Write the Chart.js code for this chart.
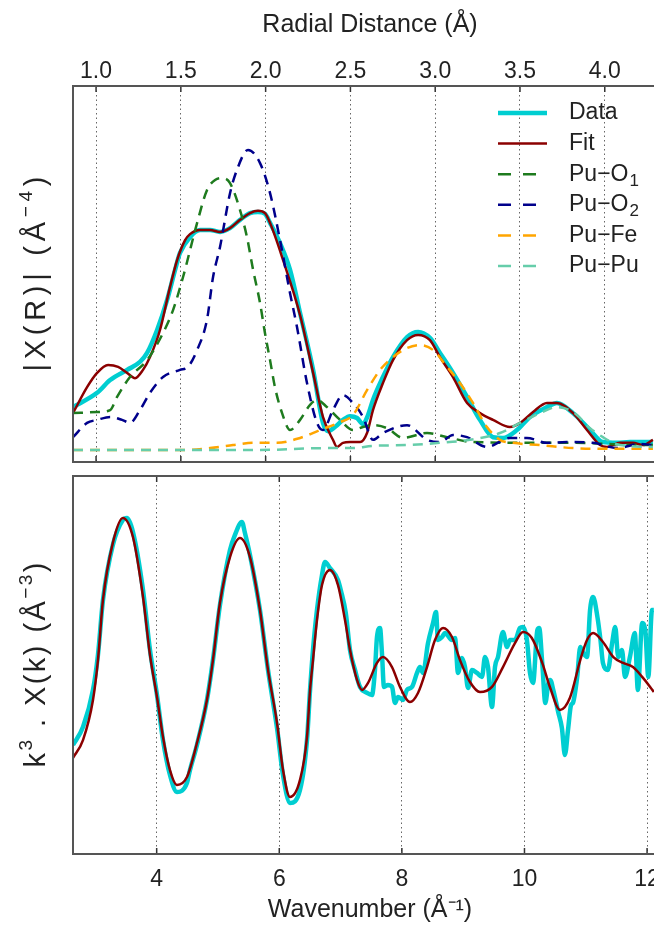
<!DOCTYPE html>
<html>
<head>
<meta charset="utf-8">
<script src="https://cdn.jsdelivr.net/npm/chart.js@4.4.1/dist/chart.umd.min.js"></script>
<style>
  html, body { margin: 0; padding: 0; background: #fff; overflow: hidden; width: 654px; height: 926px; }
  canvas { position: absolute; left: 0; }
  #topChart { top: 0; }
  #bottomChart { top: 470px; }
</style>
</head>
<body>
<canvas id="topChart" width="680" height="470"></canvas>
<canvas id="bottomChart" width="680" height="456"></canvas>
<script>
// ---------- top panel : |X(R)| vs R ----------
const rTicks = [1.0, 1.5, 2.0, 2.5, 3.0, 3.5, 4.0]

const dataR = [0.864, 1.006, 1.083, 1.183, 1.259, 1.301, 1.360, 1.419, 1.466, 1.495, 1.554, 1.613, 1.672, 1.731, 1.790, 1.849, 1.908, 1.955, 1.996, 2.026, 2.085, 2.144, 2.203, 2.280, 2.338, 2.368, 2.409, 2.456, 2.498, 2.539, 2.574, 2.604, 2.633, 2.692, 2.751, 2.834, 2.899, 2.969, 3.028, 3.105, 3.188, 3.264, 3.341, 3.400, 3.482, 3.559, 3.659, 3.718, 3.813, 3.913, 3.989, 4.072, 4.149, 4.284]
const dataXR = [1.46, 1.84, 2.18, 2.45, 2.66, 2.90, 3.51, 4.31, 5.11, 5.56, 5.98, 6.17, 6.17, 6.12, 6.22, 6.44, 6.62, 6.65, 6.60, 6.36, 5.82, 5.11, 3.96, 2.45, 1.04, 0.82, 0.93, 1.12, 1.22, 1.17, 1.01, 1.25, 1.65, 2.26, 2.79, 3.32, 3.46, 3.30, 2.90, 2.37, 1.73, 1.12, 0.66, 0.64, 0.85, 1.20, 1.46, 1.57, 1.30, 0.85, 0.53, 0.51, 0.53, 0.53]

const fitR = [0.864, 0.947, 1.006, 1.071, 1.130, 1.183, 1.230, 1.277, 1.318, 1.377, 1.436, 1.478, 1.525, 1.554, 1.613, 1.672, 1.731, 1.790, 1.849, 1.908, 1.955, 1.996, 2.026, 2.103, 2.203, 2.280, 2.338, 2.397, 2.421, 2.456, 2.498, 2.557, 2.598, 2.633, 2.692, 2.751, 2.834, 2.899, 2.969, 3.028, 3.105, 3.188, 3.264, 3.341, 3.441, 3.500, 3.577, 3.659, 3.718, 3.813, 3.895, 3.972, 4.013, 4.090, 4.166, 4.225, 4.284]
const fitXR = [1.30, 1.99, 2.37, 2.58, 2.53, 2.37, 2.23, 2.45, 2.79, 3.51, 4.65, 5.37, 5.90, 6.06, 6.17, 6.17, 6.12, 6.22, 6.44, 6.62, 6.68, 6.62, 6.36, 5.37, 3.91, 2.37, 1.20, 0.59, 0.40, 0.51, 0.53, 0.53, 0.77, 1.38, 2.10, 2.71, 3.24, 3.38, 3.24, 2.79, 2.26, 1.57, 1.30, 1.12, 0.93, 1.04, 1.33, 1.57, 1.57, 1.30, 0.85, 0.45, 0.40, 0.51, 0.51, 0.45, 0.59]

const o1R = [0.864, 1.006, 1.083, 1.124, 1.200, 1.301, 1.395, 1.454, 1.513, 1.596, 1.654, 1.702, 1.749, 1.790, 1.849, 1.890, 1.926, 1.967, 1.996, 2.026, 2.055, 2.097, 2.144, 2.203, 2.262, 2.303, 2.362, 2.439, 2.515, 2.574, 2.633, 2.716, 2.810, 2.952, 3.070, 3.223, 3.618, 3.813, 4.208, 4.284]
const o1XR = [1.30, 1.33, 1.38, 1.73, 2.26, 2.71, 3.43, 4.04, 4.92, 6.36, 7.23, 7.50, 7.55, 7.42, 6.70, 5.98, 5.11, 4.23, 3.43, 2.71, 1.99, 1.30, 0.85, 1.12, 1.52, 1.65, 1.46, 1.12, 0.85, 0.93, 0.98, 0.90, 0.64, 0.77, 0.66, 0.53, 0.51, 0.51, 0.45, 0.45]

const o2R = [0.864, 0.947, 1.006, 1.083, 1.153, 1.200, 1.259, 1.318, 1.395, 1.495, 1.542, 1.596, 1.654, 1.690, 1.731, 1.790, 1.831, 1.896, 1.967, 2.026, 2.085, 2.144, 2.185, 2.244, 2.303, 2.338, 2.397, 2.456, 2.515, 2.574, 2.633, 2.692, 2.834, 2.952, 3.028, 3.105, 3.188, 3.305, 3.441, 3.541, 3.659, 3.777, 3.930, 4.072, 4.208, 4.284]
const o2XR = [0.66, 1.04, 1.12, 1.20, 1.12, 1.04, 1.38, 1.84, 2.26, 2.45, 2.53, 2.98, 3.78, 4.92, 5.72, 7.15, 7.77, 8.30, 7.95, 7.15, 5.90, 4.49, 3.59, 2.10, 1.04, 0.85, 1.38, 1.78, 1.57, 1.20, 0.59, 0.77, 0.98, 0.59, 0.53, 0.72, 0.66, 0.40, 0.64, 0.64, 0.51, 0.53, 0.51, 0.37, 0.48, 0.45]

const feR = [0.864, 1.537, 1.672, 1.808, 1.926, 2.067, 2.203, 2.321, 2.439, 2.515, 2.598, 2.675, 2.751, 2.834, 2.910, 2.987, 3.070, 3.146, 3.223, 3.305, 3.382, 3.459, 3.618, 3.813, 4.013, 4.284]
const feXR = [0.32, 0.32, 0.37, 0.45, 0.51, 0.51, 0.64, 0.85, 1.06, 1.25, 1.91, 2.45, 2.79, 3.03, 3.11, 2.98, 2.53, 2.10, 1.57, 0.93, 0.59, 0.51, 0.45, 0.37, 0.35, 0.35]

const puR = [0.864, 1.967, 2.362, 2.515, 2.633, 2.834, 3.028, 3.205, 3.382, 3.500, 3.618, 3.718, 3.813, 3.913, 3.989, 4.090, 4.284]
const puXR = [0.32, 0.32, 0.37, 0.37, 0.43, 0.45, 0.51, 0.59, 0.77, 1.04, 1.30, 1.46, 1.33, 0.90, 0.66, 0.45, 0.40]

// ---------- bottom panel : k^3 X(k) vs k ----------
const kTicks = [4, 6, 8, 10, 12]

const kData = [2.635, 2.798, 2.961, 3.042, 3.124, 3.285, 3.448, 3.515, 3.613, 3.777, 3.891, 4.005, 4.103, 4.217, 4.331, 4.494, 4.543, 4.657, 4.820, 4.918, 5.032, 5.196, 5.277, 5.391, 5.440, 5.522, 5.685, 5.816, 5.963, 6.061, 6.175, 6.338, 6.452, 6.502, 6.550, 6.615, 6.697, 6.746, 6.827, 6.958, 7.003, 7.085, 7.154, 7.235, 7.317, 7.431, 7.512, 7.561, 7.594, 7.643, 7.675, 7.708, 7.773, 7.839, 7.888, 7.937, 8.018, 8.083, 8.165, 8.247, 8.296, 8.345, 8.426, 8.508, 8.557, 8.589, 8.655, 8.704, 8.818, 8.867, 8.916, 8.981, 9.030, 9.079, 9.144, 9.226, 9.307, 9.356, 9.405, 9.470, 9.519, 9.568, 9.649, 9.715, 9.764, 9.845, 9.927, 9.976, 10.04, 10.09, 10.14, 10.21, 10.24, 10.29, 10.34, 10.39, 10.42, 10.47, 10.55, 10.61, 10.66, 10.71, 10.76, 10.79, 10.86, 10.91, 10.96, 11.02, 11.07, 11.12, 11.19, 11.24, 11.28, 11.36, 11.43, 11.48, 11.53, 11.59, 11.64, 11.72, 11.80, 11.85, 11.92, 11.97, 12.02, 12.08, 12.11]
const chiData = [-4.23, -3.28, -1.32, 0.53, 3.44, 6.35, 7.67, 7.78, 7.04, 3.97, 0.79, -1.59, -3.97, -5.82, -6.72, -6.24, -5.56, -4.23, -1.85, 0.26, 3.17, 6.08, 6.88, 7.57, 6.98, 5.82, 2.91, -0.26, -3.33, -5.82, -7.30, -6.61, -3.97, -1.32, 0.79, 2.91, 4.76, 5.45, 5.13, 4.50, 3.97, 2.75, 0.79, -0.26, -1.16, -1.48, -1.59, -0.26, 1.48, 1.96, 0.63, -1.16, -1.06, -1.16, -2.01, -1.69, -1.85, -1.32, -1.16, -0.42, -0.11, -0.42, 1.16, 2.22, 2.80, 1.32, 1.48, 1.69, 1.32, 1.43, -0.42, 0.37, -0.11, -1.22, -0.26, -0.42, -0.63, 0.42, -0.11, -2.22, -0.11, 0.42, 1.75, 0.95, 1.32, 1.32, 1.96, 2.01, 1.32, -0.42, -0.95, 1.85, 1.96, 0.11, -2.01, -0.95, -0.79, -1.32, -2.49, -3.33, -4.76, -3.44, -2.12, -2.01, -0.63, 0.95, 0.63, 0.42, 2.91, 3.60, 2.54, 1.32, 0.11, -0.26, 1.16, 2.01, 0.42, 0.79, -0.63, 0.42, 1.69, -1.32, 2.22, 1.85, -0.63, 2.91, 2.91]

const kFit = [2.635, 2.798, 2.961, 3.042, 3.124, 3.285, 3.448, 3.613, 3.777, 3.891, 4.005, 4.103, 4.217, 4.331, 4.494, 4.657, 4.820, 4.918, 5.032, 5.196, 5.359, 5.522, 5.685, 5.816, 5.963, 6.061, 6.175, 6.338, 6.452, 6.502, 6.550, 6.615, 6.697, 6.827, 6.958, 7.072, 7.154, 7.268, 7.350, 7.448, 7.594, 7.692, 7.839, 7.969, 8.132, 8.263, 8.410, 8.540, 8.671, 8.818, 8.948, 9.111, 9.274, 9.470, 9.649, 9.845, 9.976, 10.12, 10.29, 10.42, 10.58, 10.74, 10.91, 11.02, 11.12, 11.28, 11.45, 11.61, 11.77, 11.92, 12.05, 12.11]
const chiFit = [-4.92, -3.97, -1.85, 0.26, 3.44, 6.46, 7.78, 6.77, 3.60, 0.53, -1.69, -3.81, -5.56, -6.35, -5.93, -4.13, -1.85, 0.26, 3.28, 5.71, 6.72, 5.71, 2.91, -0.26, -3.07, -5.56, -6.98, -6.08, -3.81, -1.32, 0.26, 2.38, 4.23, 5.03, 4.23, 2.38, 0.79, -0.79, -1.32, -0.95, 0.11, 0.42, -0.11, -1.16, -1.96, -1.48, -0.11, 1.32, 1.96, 1.48, 0.26, -0.90, -1.43, -1.16, -0.11, 1.16, 1.75, 1.43, 0.11, -1.22, -2.38, -1.75, 0.26, 1.32, 1.69, 1.22, 0.42, 0.11, -0.11, -0.63, -1.16, -1.43]

const FONT = "'Liberation Sans', Arial, sans-serif"
Chart.defaults.font.family = FONT
Chart.defaults.color = '#222'

const pts = (xs, ys) => xs.map((x, i) => ({ x: x, y: ys[i] }))

function line(label, xs, ys, color, width, dash, order) {
  return {
    label: label,
    data: pts(xs, ys),
    borderColor: color,
    borderWidth: width,
    borderDash: dash,
    pointRadius: 0,
    cubicInterpolationMode: 'monotone',
    fill: false,
    order: order
  }
}

// box round the plot + small inward ticks
const frame = {
  id: 'frame',
  afterDraw(chart) {
    const { ctx, chartArea: a } = chart
    const x = chart.scales.x
    ctx.save()
    ctx.strokeStyle = '#333'
    ctx.lineWidth = 1.5
    x.ticks.forEach(t => {
      const px = x.getPixelForValue(t.value)
      ctx.beginPath()
      ctx.moveTo(px, a.top); ctx.lineTo(px, a.top + 6)
      ctx.moveTo(px, a.bottom); ctx.lineTo(px, a.bottom - 6)
      ctx.stroke()
    })
    ctx.strokeStyle = '#555'
    ctx.lineWidth = 2
    ctx.strokeRect(a.left, a.top, a.width, a.height)
    ctx.restore()
  }
}

// rotated y label with superscripts, tracked out to a given length
const yTitle = {
  id: 'yTitle',
  afterDraw(chart, args, opts) {
    const { ctx, chartArea: a } = chart
    const fontOf = p => (p.sup ? '19px ' : '29px ') + FONT
    ctx.save()
    let natural = 0, n = 0
    opts.parts.forEach(p => {
      ctx.font = fontOf(p)
      for (const ch of p.t) { natural += ctx.measureText(ch).width; n++ }
    })
    const gap = (opts.length - natural) / (n - 1)
    ctx.translate(opts.x, (a.top + a.bottom) / 2)
    ctx.rotate(-Math.PI / 2)
    ctx.fillStyle = '#222'
    ctx.textBaseline = 'middle'
    let x = -opts.length / 2
    opts.parts.forEach(p => {
      ctx.font = fontOf(p)
      for (const ch of p.t) {
        ctx.fillText(ch, x, p.sup ? -10 : 0)
        x += ctx.measureText(ch).width + gap
      }
    })
    ctx.restore()
  }
}

// legend in the upper right corner of the top panel
const SUB = { '\u2081': '1', '\u2082': '2' }
const legendBox = {
  id: 'legendBox',
  afterDatasetsDraw(chart) {
    const ctx = chart.ctx
    ctx.save()
    ctx.textBaseline = 'middle'
    chart.data.datasets.forEach((ds, i) => {
      const y = 113 + i * 30.6
      ctx.strokeStyle = ds.borderColor
      ctx.lineWidth = ds.borderWidth
      ctx.setLineDash(ds.borderDash.length ? [13, 12] : [])
      ctx.beginPath()
      ctx.moveTo(498, y)
      ctx.lineTo(547, y)
      ctx.stroke()
      ctx.setLineDash([])
      ctx.fillStyle = '#222'
      let text = ds.label
      let sub = SUB[text.slice(-1)]
      if (sub) text = text.slice(0, -1)
      ctx.font = '23px ' + FONT
      ctx.fillText(text, 569, y)
      if (sub) {
        const w = ctx.measureText(text).width
        ctx.font = '17px ' + FONT
        ctx.fillText(sub, 569 + w + 1, y + 7)
      }
    })
    ctx.restore()
  }
}

const DASH = [10, 7]

new Chart(document.getElementById('topChart'), {
  type: 'line',
  data: {
    datasets: [
      line('Data', dataR, dataXR, '#00ced1', 4.5, [], 10),
      line('Fit', fitR, fitXR, '#8b0000', 2.5, [], 9),
      line('Pu\u2212O\u2081', o1R, o1XR, '#1e7b1e', 2.5, DASH, 4),
      line('Pu\u2212O\u2082', o2R, o2XR, '#00008b', 2.5, DASH, 3),
      line('Pu\u2212Fe', feR, feXR, '#ffa500', 2.5, DASH, 2),
      line('Pu\u2212Pu', puR, puXR, '#66cdaa', 2.5, DASH, 1)
    ]
  },
  options: {
    responsive: false,
    animation: false,
    layout: { padding: { left: 73, right: 13, top: 0, bottom: 8 } },
    plugins: {
      legend: { display: false },
      tooltip: { enabled: false },
      yTitle: { x: 37, length: 195, parts: [{ t: '|X(R)| (Å' }, { t: '\u22124', sup: true }, { t: ')' }] }
    },
    scales: {
      x: {
        type: 'linear',
        position: 'top',
        min: 0.864,
        max: 4.367,
        afterBuildTicks: s => { s.ticks = rTicks.map(v => ({ value: v })) },
        afterFit: s => { s.height = 86 },
        ticks: { callback: v => v.toFixed(1), font: { size: 23, lineHeight: 1.2 }, color: '#222', padding: 1, maxRotation: 0, autoSkip: false },
        grid: { color: '#666', lineWidth: 1, drawTicks: false },
        border: { display: false, dash: [1.5, 3] },
        title: { display: true, text: 'Radial Distance (Å)', font: { size: 25, lineHeight: 1.2 }, color: '#222', padding: { top: 10, bottom: 0 } }
      },
      y: { display: false, min: 0, max: 10 }
    }
  },
  plugins: [frame, legendBox, yTitle]
})

new Chart(document.getElementById('bottomChart'), {
  type: 'line',
  data: {
    datasets: [
      line('Data', kData, chiData, '#00ced1', 4.5, [], 10),
      line('Fit', kFit, chiFit, '#8b0000', 2.5, [], 9)
    ]
  },
  options: {
    responsive: false,
    animation: false,
    layout: { padding: { left: 73, right: 13, top: 6, bottom: 0 } },
    plugins: {
      legend: { display: false },
      tooltip: { enabled: false },
      yTitle: { x: 37, length: 205, parts: [{ t: 'k' }, { t: '3', sup: true }, { t: ' . X(k) (Å' }, { t: '\u22123', sup: true }, { t: ')' }] }
    },
    scales: {
      x: {
        type: 'linear',
        position: 'bottom',
        min: 2.635,
        max: 12.325,
        afterBuildTicks: s => { s.ticks = kTicks.map(v => ({ value: v })) },
        afterFit: s => { s.height = 72 },
        ticks: { callback: v => String(v), font: { size: 23, lineHeight: 1.2 }, color: '#222', padding: 12, maxRotation: 0, autoSkip: false },
        grid: { color: '#666', lineWidth: 1, drawTicks: false },
        border: { display: false, dash: [1.5, 3] },
        title: { display: true, text: 'Wavenumber (Å\u207B\u00B9)', font: { size: 25, lineHeight: 1.2 }, color: '#222', padding: { top: 0, bottom: 1 } }
      },
      y: { display: false, min: -10, max: 10 }
    }
  },
  plugins: [frame, yTitle]
})
</script>
</body>
</html>
